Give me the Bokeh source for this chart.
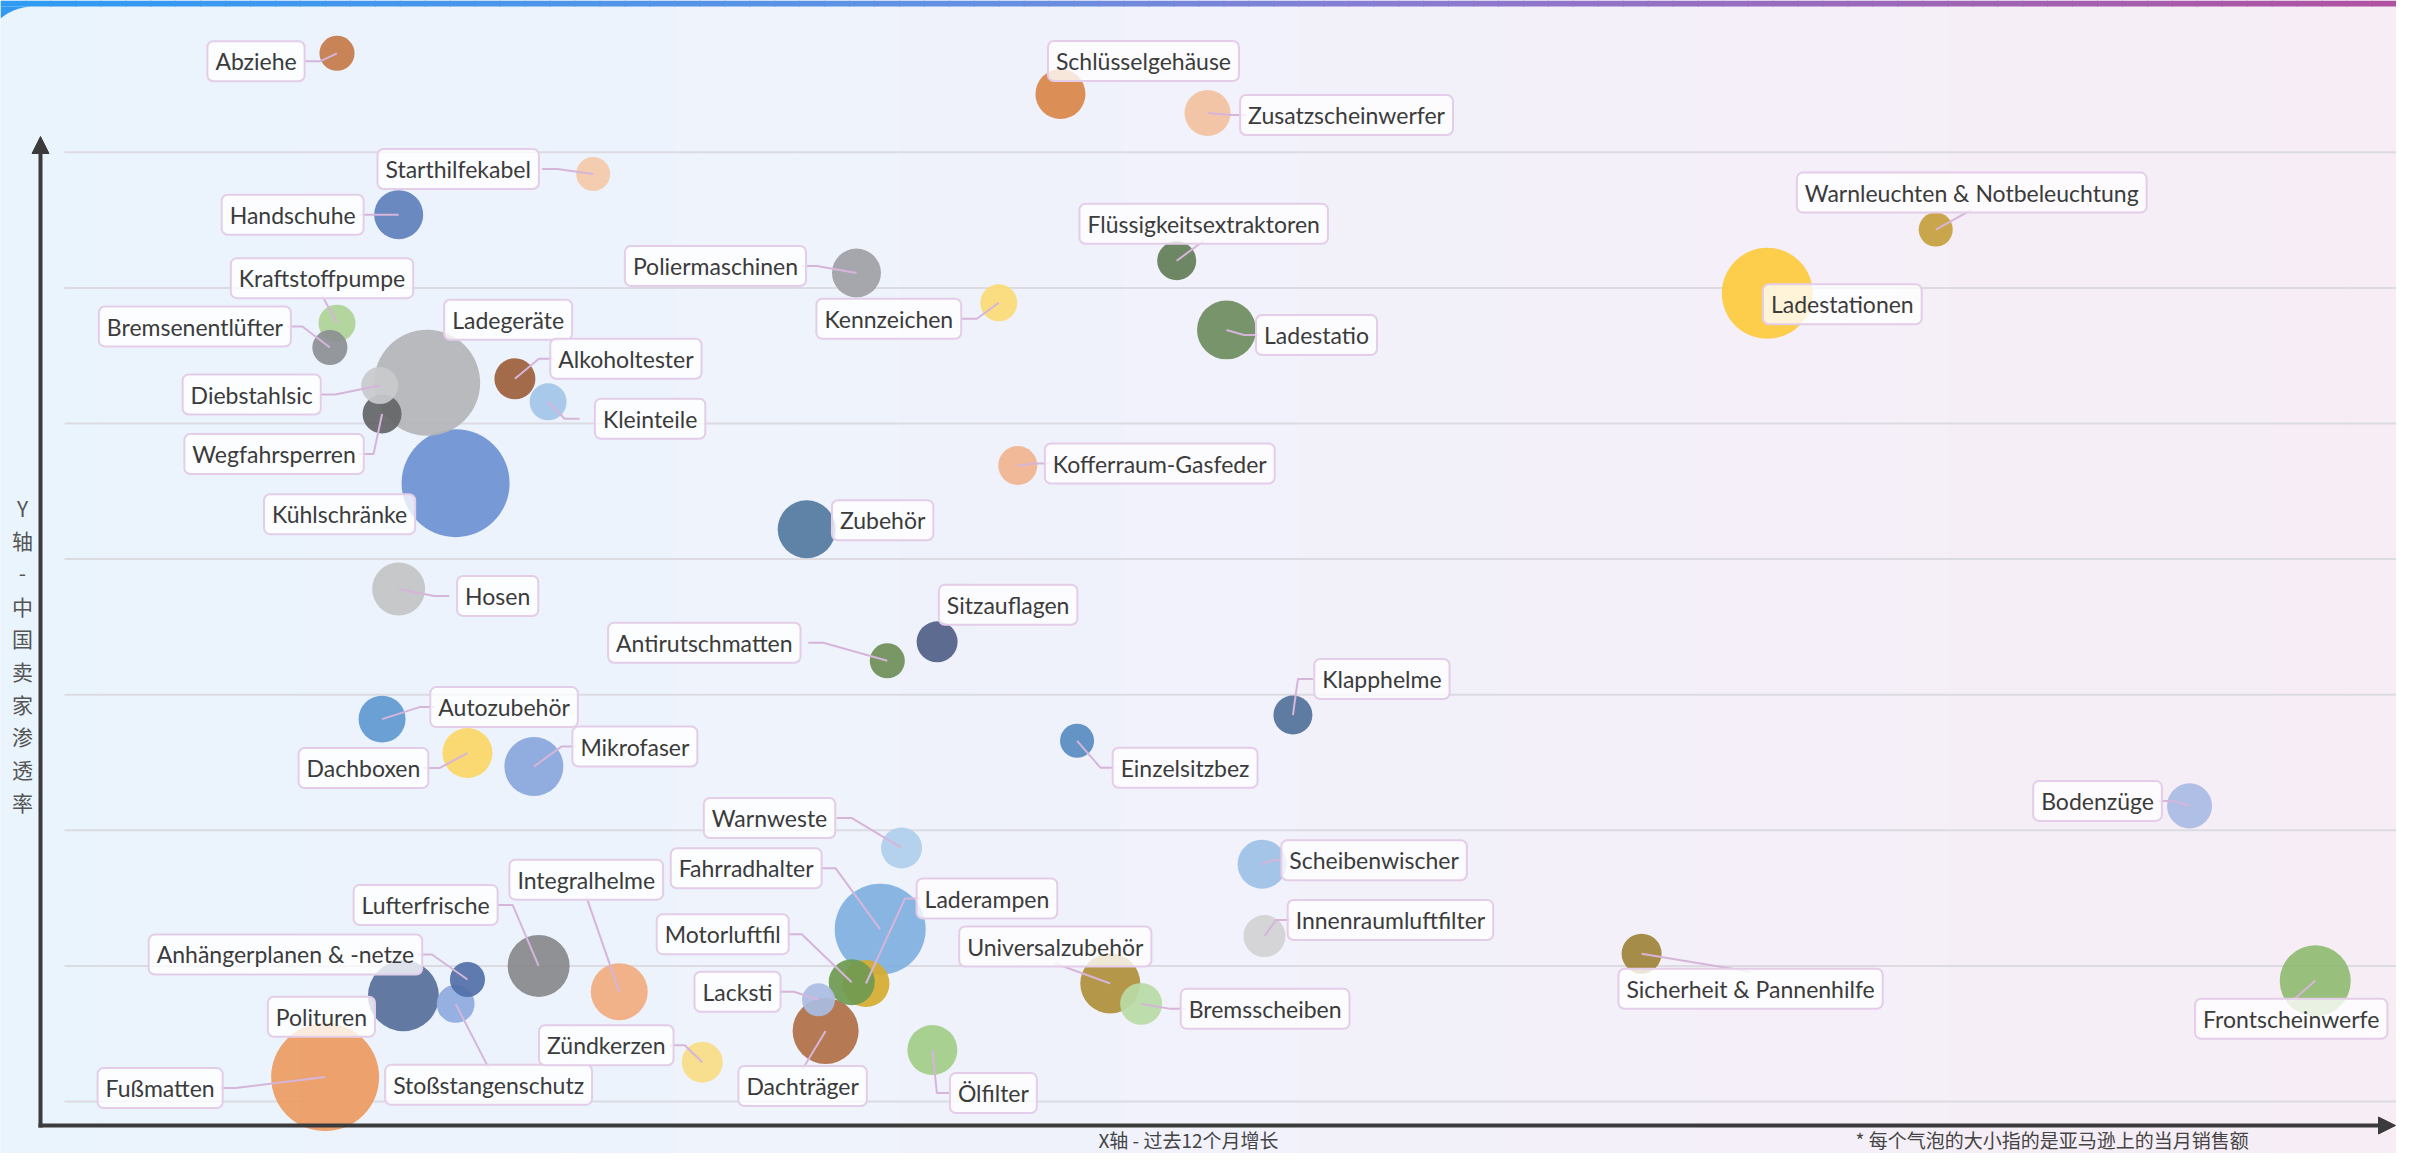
import math
from bokeh.plotting import figure
from bokeh.models import Range1d, ColumnDataSource, Arrow, NormalHead
from bokeh.core.properties import value
from bokeh.embed import file_html
from bokeh.resources import INLINE

# ---------------- data ----------------
names = ["Abziehe", "Schlüsselgehäuse", "Zusatzscheinwerfer", "Starthilfekabel", "Handschuhe",
         "Poliermaschinen", "Kennzeichen", "Flüssigkeitsextraktoren", "Ladestatio",
         "Warnleuchten & Notbeleuchtung", "Ladestationen", "Kraftstoffpumpe", "Bremsenentlüfter",
         "Ladegeräte", "Alkoholtester", "Kleinteile", "Diebstahlsic", "Wegfahrsperren",
         "Kühlschränke", "Zubehör", "Kofferraum-Gasfeder", "Hosen", "Sitzauflagen",
         "Antirutschmatten", "Klapphelme", "Einzelsitzbez", "Autozubehör", "Dachboxen",
         "Mikrofaser", "Bodenzüge", "Warnweste", "Scheibenwischer", "Fahrradhalter",
         "Laderampen", "Motorluftfil", "Innenraumluftfilter", "Lufterfrische", "Integralhelme",
         "Anhängerplanen & -netze", "Polituren", "Fußmatten", "Stoßstangenschutz",
         "Universalzubehör", "Bremsscheiben", "Lacksti", "Dachträger", "Zündkerzen",
         "Ölfilter", "Sicherheit & Pannenhilfe", "Frontscheinwerfe"]
# X: growth over the past 12 months
growth = [12.5, 43.0, 49.2, 23.3, 15.1, 34.4, 40.4, 47.9, 50.0, 79.9,
          72.8, 12.5, 12.2, 16.3, 20.0, 21.4, 14.3, 14.4, 17.5, 32.3,
          41.2, 15.1, 37.8, 35.7, 52.8, 43.7, 14.4, 18.0, 20.8, 90.6,
          36.3, 51.5, 35.4, 34.8, 34.2, 51.6, 21.0, 24.4, 18.0, 15.3,
          12.0, 17.5, 45.1, 46.4, 32.8, 33.1, 27.9, 37.6, 67.5, 95.9]
# Y: Chinese seller penetration
penetration = [77.3, 74.3, 72.9, 68.4, 65.4, 61.1, 58.9, 62.0, 56.9, 64.3,
               59.6, 57.4, 55.6, 53.0, 53.3, 51.6, 52.8, 50.7, 45.6, 42.2,
               46.9, 37.8, 33.9, 32.5, 28.5, 26.6, 28.2, 25.7, 24.7, 21.8,
               18.7, 17.5, 12.7, 8.7, 8.8, 12.2, 10.0, 8.1, 9.0, 7.8,
               1.8, 7.2, 8.7, 7.2, 7.5, 5.2, 2.9, 3.8, 10.9, 8.9]
# bubble size: monthly sales on Amazon
sales = [12.3, 25.0, 21.2, 11.6, 24.0, 24.0, 13.7, 15.2, 34.8, 11.6,
         82.8, 13.7, 12.3, 112.4, 16.8, 13.7, 13.7, 15.2, 116.6, 33.6,
         15.2, 28.1, 16.8, 12.3, 15.2, 11.6, 22.1, 25.0, 34.8, 20.3,
         16.8, 24.0, 82.8, 22.1, 21.2, 17.6, 38.4, 32.5, 12.3, 50.4,
         116.6, 14.4, 36.0, 17.6, 10.9, 43.6, 16.8, 25.0, 16.0, 50.4]
colors = ["#C47A48", "#DA8549", "#F3C1A0", "#F4CAA9", "#5F80BC", "#A0A1A5", "#FADB75", "#627D57",
          "#6E8C5E", "#C4A03C", "#FDCA3D", "#AED396", "#8C8F92", "#B4B5B9", "#9C5F3A", "#A3C6E9",
          "#C9CACC", "#646567", "#6D91D2", "#52799F", "#F1B48F", "#C3C4C6", "#4F5F86", "#6F8F57",
          "#51729A", "#588BC0", "#5E99D0", "#FBD666", "#89A6DB", "#A9BBE4", "#AFCEEB", "#9DC1E6",
          "#7FB0DF", "#D6AC2E", "#6F9A50", "#D3D3D4", "#88898B", "#F1AD80", "#5170A8", "#566F9A",
          "#ED9B62", "#8EABDE", "#AF8F39", "#B9DBA5", "#AABDE3", "#B06F45", "#F9DD85", "#A2CD88",
          "#A0833A", "#8FBB70"]
grid_ticks = [0, 10, 20, 30, 40, 50, 60, 70]
x_title = "X轴 - 过去12个月增长"
y_title = "Y轴-中国卖家渗透率"
footnote = "* 每个气泡的大小指的是亚马逊上的当月销售额"

# ---------------- layout (label placement, screen px) ----------------
label_dx = [-81, 83, 139, -135, -106, -141, -110, 27, 90, 36,
            75, -15, -135, 81, 111, 102, -128, -108, -116, 76,
            142, 99, 71, -183, 89, 108, 122, -104, 101, -92,
            -132, 112, -134, 121, -129, 126, -113, -33, -182, -82,
            -165, 33, -55, 124, -81, -23, -96, 61, 109, -24]
label_dy = [8, -33, 2, -5, 0, -7, 16, -37, 5, -37,
            11, -45, -21, -63, -20, 17, 9, 40, 31, -9,
            -2, 7, -37, -18, -36, 27, -12, 15, -20, -5,
            -30, -4, -61, -85, -48, -16, -61, -112, -25, 21,
            11, 81, -37, 5, -8, 55, -17, 43, 35, 38]
box_w = [104, 190, 207, 174, 139, 179, 152, 244, 121, 336,
         155, 194, 191, 128, 150, 147, 143, 175, 149, 100,
         225, 103, 140, 214, 144, 145, 145, 128, 123, 127,
         140, 180, 155, 140, 134, 205, 150, 155, 269, 108,
         127, 204, 188, 165, 89, 156, 133, 89, 256, 193]
no_leader = {"Schlüsselgehäuse", "Ladestationen", "Sitzauflagen", "Kühlschränke",
             "Ladegeräte", "Polituren", "Zubehör"}

# ---------------- geometry ----------------
W, H, OFF = 2396, 1153, 0
X0, XS = 40.0, 23.72      # page px of x=0, px per unit
Y0, YS = 1101.0, 13.56    # page px of y=0, px per unit
AXIS_Y = 1125


def gx(px):
    return (px - X0) / XS


def gy(py):
    return (Y0 - py) / YS


def hex2rgb(h):
    h = h.lstrip("#")
    return tuple(int(h[i:i + 2], 16) for i in (0, 2, 4))


def interp(stops, t):
    for (t0, c0), (t1, c1) in zip(stops[:-1], stops[1:]):
        if t <= t1:
            f = 0 if t1 == t0 else (t - t0) / (t1 - t0)
            a, b = hex2rgb(c0), hex2rgb(c1)
            return "#%02x%02x%02x" % tuple(round(a[k] + (b[k] - a[k]) * f) for k in range(3))
    return stops[-1][1]


p = figure(width=W, height=H, x_range=Range1d(gx(OFF), gx(OFF + W)),
           y_range=Range1d(gy(OFF + H), gy(OFF)), output_backend="svg",
           toolbar_location=None, min_border=0)
p.xaxis.visible = False
p.yaxis.visible = False
p.xgrid.visible = False
p.ygrid.visible = False
p.outline_line_color = None
p.background_fill_color = "#F0F2FB"
p.border_fill_color = "#F0F2FB"

# background gradient
bg_stops = [(0, "#EAF4FD"), (600, "#EDF3FC"), (1200, "#F1F2FB"), (1800, "#F4EFF8"), (2412, "#F7EDF5")]
N = 96
qs = dict(l=[], r=[], b=[], t=[], c=[])
for i in range(N):
    a = OFF + W * i / N
    b = OFF + W * (i + 1) / N
    qs["l"].append(gx(a))
    qs["r"].append(gx(b + 1))
    qs["b"].append(gy(OFF + H))
    qs["t"].append(gy(OFF))
    qs["c"].append(interp(bg_stops, (a + b) / 2))
p.quad(left="l", right="r", bottom="b", top="t", fill_color="c", line_color=None,
       source=ColumnDataSource(qs))

# top accent bar
bar_stops = [(0, "#2F9BF3"), (1000, "#6690E2"), (1400, "#8A7CD0"), (2412, "#B0529F")]
qb = dict(l=[], r=[], b=[], t=[], c=[])
for i in range(N):
    a = OFF + W * i / N
    b = OFF + W * (i + 1) / N
    qb["l"].append(gx(a))
    qb["r"].append(gx(b + 1))
    qb["b"].append(gy(OFF + 6))
    qb["t"].append(gy(OFF))
    qb["c"].append(interp(bar_stops, (a + b) / 2))
p.quad(left="l", right="r", bottom="b", top="t", fill_color="c", line_color=None,
       source=ColumnDataSource(qb))
# rounded card corner
cx, cy, R = 33.0, 57.4, 51.4
cxs, cys = [gx(OFF), gx(OFF)], [gy(OFF + 6), gy(OFF + 18)]
for k in range(0, 34):
    yy = cy - math.sqrt(max(R * R - (k - cx) ** 2, 0))
    cxs.append(gx(OFF + k))
    cys.append(gy(OFF + yy))
p.patch(cxs, cys, fill_color="#3299F2", line_color=None)

# grid lines
p.segment(x0=[gx(64)] * len(grid_ticks), x1=[gx(OFF + W)] * len(grid_ticks),
          y0=grid_ticks, y1=grid_ticks, line_color="#DCDBE2", line_width=2)

# bubbles (largest first so small ones stay visible)
order = sorted(range(len(names)), key=lambda i: -sales[i])
bsrc = ColumnDataSource(dict(
    x=[growth[i] for i in order], y=[penetration[i] for i in order],
    d=[10 * math.sqrt(sales[i]) for i in order], c=[colors[i] for i in order]))
p.scatter("x", "y", size="d", marker="circle", fill_color="c", fill_alpha=0.92,
          line_color=None, source=bsrc)

# leader lines
lxs, lys = [], []
for i, n in enumerate(names):
    if n in no_leader:
        continue
    px = X0 + growth[i] * XS
    py = Y0 - penetration[i] * YS
    bx, by = px + label_dx[i], py + label_dy[i]
    hw, hh = box_w[i] / 2.0, 20.0
    if px > bx + hw:
        pts = [(bx + hw - 3, by), (bx + hw + 12, by), (px, py)]
    elif px < bx - hw:
        pts = [(bx - hw + 3, by), (bx - hw - 12, by), (px, py)]
    elif py > by + hh:
        pts = [(bx, by + hh - 3), (px, py)]
    else:
        pts = [(bx, by - hh + 3), (px, py)]
    lxs.append([gx(a) for a, _ in pts])
    lys.append([gy(b) for _, b in pts])
p.multi_line(lxs, lys, line_color="#D6B5DA", line_width=2)

# label boxes
lsrc = ColumnDataSource(dict(
    lx=[growth[i] + label_dx[i] / XS for i in range(len(names))],
    ly=[penetration[i] - label_dy[i] / YS for i in range(len(names))],
    name=names))
lab = p.text(x="lx", y="ly", text="name", source=lsrc, text_font=value("Lato"),
             text_font_size="23px", text_color="#3B3B3B", text_align="center",
             text_baseline="middle", background_fill_color="#FFFFFF",
             background_fill_alpha=0.78, border_line_color="#E3CDE8",
             border_line_width=2, border_radius=6)
try:
    lab.glyph.padding = dict(left=8, right=8, top=6, bottom=6)
except Exception:
    lab.glyph.padding = 8

# axes with arrows
ax_col = "#3B3B3B"
p.add_layout(Arrow(end=NormalHead(size=17, fill_color=ax_col, line_color=ax_col),
                   x_start=gx(40), y_start=gy(AXIS_Y + 2), x_end=gx(40), y_end=gy(136),
                   line_width=4, line_color=ax_col))
p.add_layout(Arrow(end=NormalHead(size=17, fill_color=ax_col, line_color=ax_col),
                   x_start=gx(38), y_start=gy(AXIS_Y), x_end=gx(OFF + W - 1), y_end=gy(AXIS_Y),
                   line_width=4, line_color=ax_col))

# axis titles
p.text(x=[gx(1188)], y=[gy(1139)], text=[x_title], text_font=value("Noto Sans CJK SC"),
       text_font_size="19px", text_color="#444444", text_align="center", text_baseline="middle")
ychars = list(y_title)
p.text(x=[gx(22)] * len(ychars), y=[gy(507 + k * 32.7) for k in range(len(ychars))],
       text=ychars, text_font=value("Noto Sans CJK SC"), text_font_size="21px",
       text_color="#555555", text_align="center", text_baseline="middle")
p.text(x=[gx(1855)], y=[gy(1139)], text=[footnote], text_font=value("Noto Sans CJK SC"),
       text_font_size="19px", text_color="#444444", text_align="left", text_baseline="middle")

open("out.html", "w").write(file_html(p, INLINE))
